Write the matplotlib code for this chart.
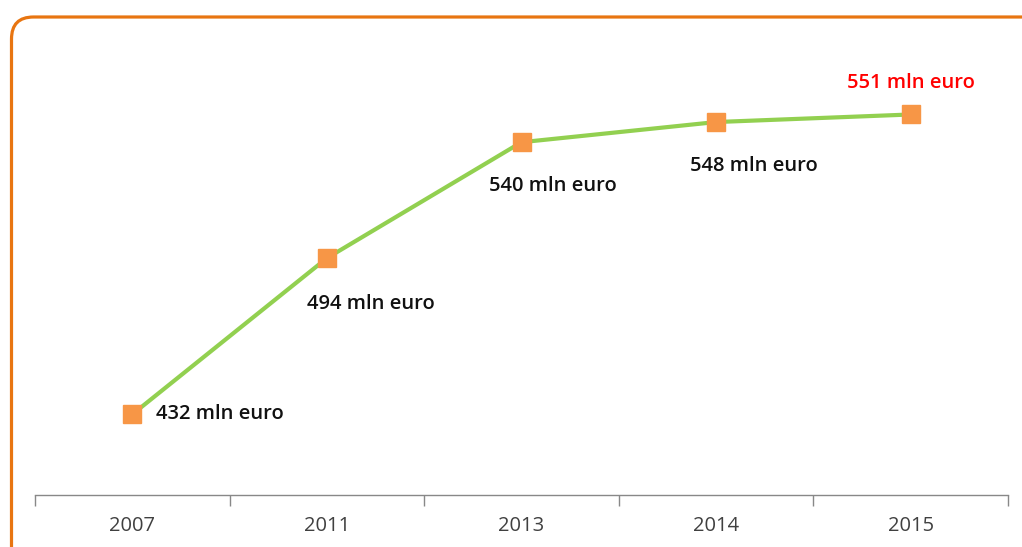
import matplotlib
matplotlib.use("Agg")
import matplotlib.pyplot as plt
from matplotlib.patches import FancyBboxPatch

years = ["2007", "2011", "2013", "2014", "2015"]
values = [432, 494, 540, 548, 551]
labels = ["432 mln euro", "494 mln euro", "540 mln euro", "548 mln euro", "551 mln euro"]
label_colors = ["#111111", "#111111", "#111111", "#111111", "#FF0000"]
# label offsets in pixels (dx, dy), placement only
offsets = [(24, 0), (44, -46), (31, -44), (38, -44), (0, 31)]
aligns = ["left", "center", "center", "center", "center"]

fig = plt.figure(figsize=(10.22, 5.47), dpi=100)
ax = fig.add_axes([35 / 1022, 52 / 547, 973 / 1022, 453.6 / 547])

x = list(range(len(years)))
ax.plot(x, values, color="#92D050", lw=3, zorder=2)
ax.plot(x, values, ls="none", marker="s", ms=12.5, color="#F79646",
        markeredgecolor="#F79646", zorder=3)

for i, (v, lab) in enumerate(zip(values, labels)):
    ax.annotate(lab, (i, v), xytext=offsets[i], textcoords="offset pixels",
                ha=aligns[i], va="center", fontsize=14.5, fontweight="semibold",
                color=label_colors[i], family="Open Sans")

ax.set_xlim(-0.5, len(years) - 0.5)
ax.set_ylim(400, 580)
ax.set_yticks([])
ax.set_xticks(x)
ax.set_xticklabels(years, fontsize=14.5, color="#404040", family="Open Sans")
ax.set_xticks([i - 0.5 for i in range(len(years) + 1)], minor=True)
ax.tick_params(axis="x", which="major", length=0, pad=15)
ax.tick_params(axis="x", which="minor", length=8, color="#888888", width=1)
for s in ["top", "right", "left"]:
    ax.spines[s].set_visible(False)
ax.spines["bottom"].set_color("#888888")
ax.spines["bottom"].set_linewidth(1)

# rounded orange frame
frame = FancyBboxPatch((0.115, -0.6), 11.0, 5.30 + 0.6,
                       boxstyle="round,pad=0,rounding_size=0.22",
                       transform=fig.dpi_scale_trans, fill=False,
                       edgecolor="#E87511", linewidth=2.3, zorder=0)
fig.patches.append(frame)

fig.savefig("out.png", dpi=100)
